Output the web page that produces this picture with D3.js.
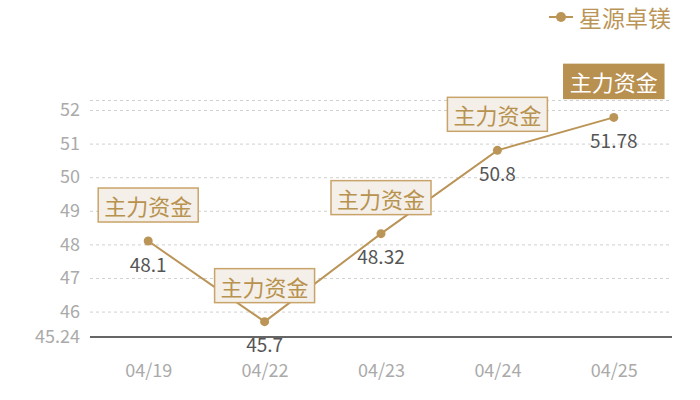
<!DOCTYPE html>
<html><head><meta charset="utf-8">
<script src="https://cdn.jsdelivr.net/npm/d3@7"></script>
<style>body{margin:0;background:#fff}svg{display:block}</style>
</head><body><svg id="c" width="700" height="400"></svg>
<script>
const categories = ["04/19","04/22","04/23","04/24","04/25"];
const values = [48.1, 45.7, 48.32, 50.8, 51.78];
const seriesName = "星源卓镁";
const markLabel = "主力资金";
const yTicks = [46,47,48,49,50,51,52];
const yMinLabel = "45.24";

const font = "'Noto Sans CJK SC','Noto Sans',sans-serif";
const gold = "#bb9558";
const svg = d3.select("#c");
const yMin = d3.min(values)*0.99, yMax = d3.max(values)*1.01;
const x = d3.scalePoint().domain(categories).range([90,672]).padding(0.5);
const y = d3.scaleLinear().domain([yMin,yMax]).range([337,100]);

// gridlines
const grid = svg.append("g").attr("transform","translate(90,0)")
  .call(d3.axisLeft(y).tickValues(yTicks.concat([yMax])).tickSize(-582).tickFormat(""));
grid.select(".domain").remove();
grid.selectAll("line").attr("stroke","#d0d0d0").attr("stroke-dasharray","3,3");

// y labels
const yl = svg.append("g").attr("transform","translate(80,0)")
  .call(d3.axisLeft(y).tickValues(yTicks.concat([yMin])).tickSize(0).tickPadding(0)
    .tickFormat(d=> d===yMin ? yMinLabel : d3.format("d")(d)));
yl.select(".domain").remove();
yl.selectAll("text").attr("fill","#aaa").style("font-family",font).style("font-size","18px");

// x axis
const xa = svg.append("g").attr("transform","translate(0,337)")
  .call(d3.axisBottom(x).tickSize(0).tickPadding(27));
xa.select(".domain").attr("stroke","#333").attr("stroke-width",1.3).attr("d","M90,0H672");
xa.selectAll("text").attr("fill","#aaa").style("font-family",font).style("font-size","18px");

// line
const line = d3.line().x((d,i)=>x(categories[i])).y(d=>y(d));
svg.append("path").datum(values).attr("d",line).attr("fill","none")
  .attr("stroke",gold).attr("stroke-width",2);
svg.selectAll(".pt").data(values).join("circle")
  .attr("cx",(d,i)=>x(categories[i])).attr("cy",d=>y(d)).attr("r",4.5).attr("fill",gold);

// value labels
svg.selectAll(".vl").data(values).join("text")
  .attr("x",(d,i)=>x(categories[i])).attr("y",d=>y(d)+22)
  .attr("text-anchor","middle").attr("dominant-baseline","central")
  .attr("fill","#555").style("font-family",font).style("font-size","19px")
  .text(d=>d);

// marker boxes
const mk = svg.selectAll(".mk").data(values).join("g")
  .attr("transform",(d,i)=>`translate(${x(categories[i])},${y(d)-36})`);
mk.append("rect").attr("x",-50).attr("y",-17).attr("width",100).attr("height",34)
  .attr("fill",(d,i)=> i===values.length-1 ? "#b89050" : "#f4efe8")
  .attr("stroke",(d,i)=> i===values.length-1 ? "#b89050" : "#c9a46a").attr("stroke-width",1.5);
mk.append("text").attr("text-anchor","middle").attr("dominant-baseline","central")
  .attr("fill",(d,i)=> i===values.length-1 ? "#fff" : "#b8924f")
  .style("font-family",font).style("font-size","22px").text(markLabel);

// legend
const lg = svg.append("g").attr("transform","translate(549,17)");
lg.append("line").attr("x1",0).attr("x2",24).attr("stroke",gold).attr("stroke-width",2);
lg.append("circle").attr("cx",12).attr("r",5).attr("fill",gold);
lg.append("text").attr("x",30).attr("dominant-baseline","central").attr("fill","#bb9558")
  .style("font-family",font).style("font-size","23px").text(seriesName);
</script></body></html>
